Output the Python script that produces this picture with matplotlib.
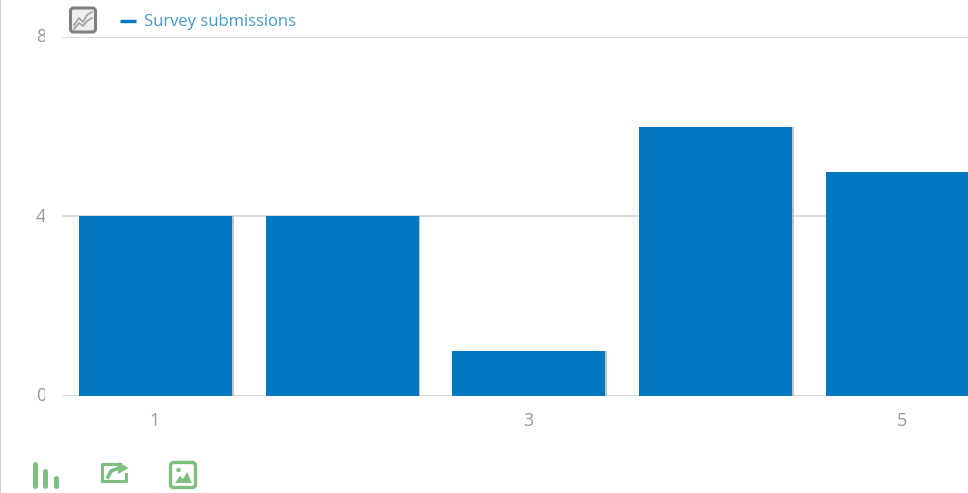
import matplotlib
matplotlib.use("Agg")
import matplotlib.pyplot as plt
from matplotlib.patches import FancyBboxPatch, Rectangle, Polygon, Circle
from matplotlib.transforms import Bbox, Affine2D
import matplotlib.patheffects as pe

categories = [1, 2, 3, 4, 5]
submissions = [4, 4, 1, 6, 5]
x_ticks = [1, 3, 5]
y_ticks = [0, 4, 8]
series_name = "Survey submissions"

W, H = 968, 493
plt.rcParams['font.family'] = ['Open Sans', 'DejaVu Sans']
fig = plt.figure(figsize=(W / 100, H / 100), dpi=100, facecolor='white')
ax = fig.add_axes([62 / W, (H - 396) / H, (W - 62) / W, 359 / H])

BLUE = '#0077BE'
GRID = '#D8D8D8'
TXT = '#999999'

ax.bar(categories, submissions, width=0.82, color=BLUE, zorder=3,
       path_effects=[pe.SimplePatchShadow(offset=(1.2, 0), shadow_rgbFace='#AAAAAA', alpha=0.7), pe.Normal()])
ax.set_xlim(0.5, 5.351)
ax.set_ylim(0, 8)
ax.set_xticks(x_ticks)
ax.set_yticks(y_ticks)
ax.grid(axis='y', color=GRID, lw=1.3, zorder=1)
ax.set_axisbelow(True)
for s in ax.spines.values():
    s.set_visible(False)
ax.tick_params(axis='both', length=0, labelsize=13, labelcolor=TXT)
ax.tick_params(axis='x', pad=11.5)
ax.tick_params(axis='y', pad=11.5)

clip = Bbox([[0, 0], [45, H]])
for tick in ax.yaxis.get_major_ticks():
    lab = tick.label1
    lab.set_transform(lab.get_transform() + Affine2D().translate(0, 2))
    lab.set_clip_on(True)
    lab.set_clip_box(clip)
for tick in ax.xaxis.get_major_ticks():
    lab = tick.label1
    lab.set_transform(lab.get_transform() + Affine2D().translate(-0.7, 0))

# Overlay in pixel coordinates for page furniture
ov = fig.add_axes([0, 0, 1, 1], facecolor='none')
ov.set_xlim(0, W)
ov.set_ylim(H, 0)
ov.axis('off')

# page left border
ov.add_patch(Rectangle((0, 0), 1.4, H, color='#D0D0D0', lw=0))

# chart-type icon
ov.add_patch(FancyBboxPatch((70.5, 8), 25, 24, boxstyle='round,pad=0,rounding_size=3',
                            fc='#EFEFEF', ec='#808080', lw=2.2))
ov.plot([74, 79, 83, 87, 92], [25, 18, 22, 15, 12], color='#A0A0A0', lw=1.2)
ov.plot([74, 79, 83, 87, 92], [29, 23, 26, 21, 18], color='#A0A0A0', lw=1.2)

# legend
ov.plot([120, 136], [20.5, 20.5], color=BLUE, lw=2.4, solid_capstyle='butt')
ov.text(144, 22.5, series_name, color='#3F98CE', fontsize=12, va='center', ha='left')

# bottom icons
G = '#7DBF7F'
for x0, top in [(34.5, 463.5), (44.5, 470.5), (55.5, 477.5)]:
    ov.plot([x0, x0], [top, 485.5], color=G, lw=3.6, solid_capstyle='round')

ov.plot([120, 102, 102, 126, 126], [464, 464, 481, 481, 474], color=G, lw=2.2,
        solid_joinstyle='round')
ov.add_patch(Polygon([[118, 462], [128.5, 468], [118, 474]], color=G, lw=0))
ov.plot([108, 111, 119], [477, 471, 468], color=G, lw=2.6)

ov.add_patch(FancyBboxPatch((170.5, 462.5), 25, 25, boxstyle='round,pad=0,rounding_size=3',
                            fc='none', ec=G, lw=2.4))
ov.add_patch(Circle((178.5, 470), 2.2, color=G, lw=0))
ov.add_patch(Polygon([[175, 483], [180, 476], [183, 479], [187, 472], [192, 483]], color=G, lw=0))

fig.savefig('out.png', dpi=100)
